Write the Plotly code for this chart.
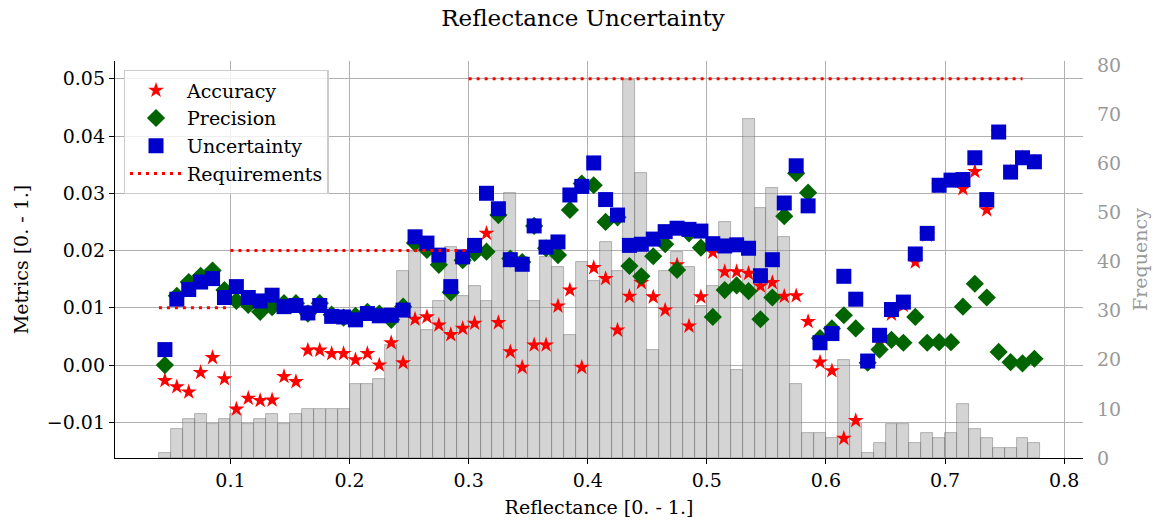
import plotly.graph_objects as go

# Bin centres of the reflectance histogram (bin width 0.01)
reflectance = [
    0.045, 0.055, 0.065, 0.075, 0.085, 0.095, 0.105, 0.115, 0.125, 0.135,
    0.145, 0.155, 0.165, 0.175, 0.185, 0.195, 0.205, 0.215, 0.225, 0.235,
    0.245, 0.255, 0.265, 0.275, 0.285, 0.295, 0.305, 0.315, 0.325, 0.335,
    0.345, 0.355, 0.365, 0.375, 0.385, 0.395, 0.405, 0.415, 0.425, 0.435,
    0.445, 0.455, 0.465, 0.475, 0.485, 0.495, 0.505, 0.515, 0.525, 0.535,
    0.545, 0.555, 0.565, 0.575, 0.585, 0.595, 0.605, 0.615, 0.625, 0.635,
    0.645, 0.655, 0.665, 0.675, 0.685, 0.695, 0.705, 0.715, 0.725, 0.735,
    0.745, 0.755, 0.765, 0.775,
]
bin_width = 0.01

frequency = [
    1, 6, 8, 9, 7, 8, 9, 7, 8, 9,
    7, 9, 10, 10, 10, 10, 15, 15, 16, 23,
    38, 42, 26, 32, 43, 33, 35, 32, 49, 54,
    41, 32, 41, 39, 25, 40, 36, 44, 38, 77,
    58, 22, 38, 42, 39, 31, 35, 48, 18, 69,
    51, 55, 45, 15, 5, 5, 4, 20, 7, 1,
    3, 7, 7, 3, 5, 4, 5, 11, 6, 4,
    2, 2, 4, 3,
]

accuracy = [
    -0.0027, -0.0038, -0.0047, -0.0013, 0.0013, -0.0024, -0.0077, -0.0058, -0.0062, -0.0061,
    -0.0020, -0.0029, 0.0026, 0.0026, 0.0020, 0.0020, 0.0009, 0.0020, 0.0000, 0.0039,
    0.0004, 0.0080, 0.0084, 0.0070, 0.0053, 0.0064, 0.0073, 0.0230, 0.0074, 0.0023,
    -0.0004, 0.0035, 0.0035, 0.0103, 0.0131, -0.0004, 0.0170, 0.0151, 0.0061, 0.0120,
    0.0144, 0.0119, 0.0096, 0.0175, 0.0068, 0.0119, 0.0197, 0.0163, 0.0163, 0.0160,
    0.0138, 0.0144, 0.0120, 0.0121, 0.0076, 0.0005, -0.0010, -0.0128, -0.0097, 0.0006,
    0.0044, 0.0089, 0.0104, 0.0180, 0.0227, 0.0312, 0.0321, 0.0308, 0.0338, 0.0271,
    0.0406, 0.0337, 0.0362, 0.0355,
]

precision = [
    0.0000, 0.0121, 0.0145, 0.0156, 0.0165, 0.0131, 0.0112, 0.0105, 0.0093, 0.0101,
    0.0108, 0.0108, 0.0090, 0.0108, 0.0088, 0.0083, 0.0086, 0.0093, 0.0090, 0.0079,
    0.0102, 0.0213, 0.0201, 0.0175, 0.0127, 0.0183, 0.0196, 0.0198, 0.0262, 0.0186,
    0.0180, 0.0243, 0.0204, 0.0192, 0.0271, 0.0317, 0.0314, 0.0250, 0.0258, 0.0173,
    0.0155, 0.0190, 0.0211, 0.0166, 0.0230, 0.0205, 0.0084, 0.0131, 0.0139, 0.0129,
    0.0080, 0.0118, 0.0260, 0.0335, 0.0301, 0.0047, 0.0064, 0.0087, 0.0064, 0.0004,
    0.0027, 0.0044, 0.0039, 0.0084, 0.0039, 0.0040, 0.0040, 0.0102, 0.0142, 0.0118,
    0.0023, 0.0005, 0.0003, 0.0011,
]

uncertainty = [
    0.0027, 0.0115, 0.0132, 0.0145, 0.0151, 0.0118, 0.0137, 0.0118, 0.0112, 0.0122,
    0.0102, 0.0104, 0.0091, 0.0104, 0.0085, 0.0084, 0.0079, 0.0090, 0.0086, 0.0087,
    0.0096, 0.0224, 0.0213, 0.0192, 0.0137, 0.0189, 0.0209, 0.0300, 0.0273, 0.0184,
    0.0176, 0.0243, 0.0206, 0.0215, 0.0297, 0.0312, 0.0353, 0.0289, 0.0262, 0.0209,
    0.0211, 0.0220, 0.0233, 0.0239, 0.0237, 0.0234, 0.0212, 0.0208, 0.0210, 0.0204,
    0.0156, 0.0184, 0.0283, 0.0348, 0.0278, 0.0039, 0.0055, 0.0155, 0.0115, 0.0007,
    0.0052, 0.0097, 0.0110, 0.0194, 0.0230, 0.0314, 0.0323, 0.0324, 0.0362, 0.0289,
    0.0407, 0.0337, 0.0362, 0.0355,
]

# Requirement levels and the reflectance range each one applies to
req_start = [0.04, 0.10, 0.30]
req_end = [0.10, 0.30, 0.765]
req_level = [0.01, 0.02, 0.05]

FONT = "DejaVu Serif"
GRID = "#b0b0b0"
GREY_TXT = "#999999"

req_x, req_y = [], []
for x0, x1, lv in zip(req_start, req_end, req_level):
    req_x += [x0, x1, None]
    req_y += [lv, lv, None]

fig = go.Figure()

# Frequency histogram on the base (right-hand) axis so it sits behind the markers
fig.add_trace(go.Bar(
    x=reflectance, y=frequency, width=bin_width,
    marker=dict(color="rgba(160,160,160,0.45)",
                line=dict(color="rgba(100,100,100,0.55)", width=0.8)),
    yaxis="y", showlegend=False, hoverinfo="skip",
))

fig.add_trace(go.Scatter(
    x=reflectance, y=accuracy, mode="markers", name="Accuracy",
    marker=dict(symbol="star", size=12, color="#ff0000", line=dict(width=0)),
    yaxis="y2",
))
fig.add_trace(go.Scatter(
    x=reflectance, y=precision, mode="markers", name="Precision",
    marker=dict(symbol="diamond", size=14, color="#006400", line=dict(width=0)),
    yaxis="y2",
))
fig.add_trace(go.Scatter(
    x=reflectance, y=uncertainty, mode="markers", name="Uncertainty",
    marker=dict(symbol="square", size=15, color="#0000cd", line=dict(width=0)),
    yaxis="y2",
))
fig.add_trace(go.Scatter(
    x=req_x, y=req_y, mode="lines", name="Requirements",
    line=dict(color="#ff0000", width=3, dash="3px,5px"),
    yaxis="y2", connectgaps=False,
))

fig.update_layout(
    width=1153, height=524,
    margin=dict(l=115, r=70, t=61, b=66, autoexpand=False),
    paper_bgcolor="white", plot_bgcolor="white",
    font=dict(family=FONT, size=19, color="black"),
    title=dict(text="Reflectance Uncertainty", x=583 / 1153, xref="container",
               xanchor="center", y=1 - 18 / 524, yref="container", yanchor="middle",
               font=dict(family=FONT, size=23, color="black")),
    xaxis=dict(
        range=[0.0031, 0.8158], automargin=False,
        tickvals=[0.1, 0.2, 0.3, 0.4, 0.5, 0.6, 0.7, 0.8], tickformat=".1f",
        showgrid=True, gridcolor=GRID, gridwidth=1.3,
        showline=True, linecolor="black", linewidth=1.3,
        ticks="outside", ticklen=5, tickwidth=1.3, tickcolor="black",
        zeroline=False,
        title=dict(text="Reflectance [0. - 1.]", standoff=10,
                   font=dict(family=FONT, size=19)),
    ),
    yaxis=dict(
        side="right", range=[0, 80.85], automargin=False,
        tickvals=[0, 10, 20, 30, 40, 50, 60, 70, 80],
        tickfont=dict(color=GREY_TXT), showgrid=False, zeroline=False,
        showline=False, ticks="", ticklabelstandoff=13,
        title=dict(text="Frequency", standoff=13,
                   font=dict(family=FONT, size=19, color=GREY_TXT)),
    ),
    yaxis2=dict(
        overlaying="y", side="left", range=[-0.01623, 0.0531], automargin=False,
        tickvals=[-0.01, 0.0, 0.01, 0.02, 0.03, 0.04, 0.05], tickformat=".2f",
        showgrid=True, gridcolor=GRID, gridwidth=1.3, zeroline=False,
        showline=True, linecolor="black", linewidth=1.3,
        ticks="outside", ticklen=5, tickwidth=1.3, tickcolor="black",
        title=dict(text="Metrics [0. - 1.]", standoff=13,
                   font=dict(family=FONT, size=19)),
    ),
    legend=dict(
        x=0.009, y=0.977, xanchor="left", yanchor="top",
        bgcolor="rgba(255,255,255,0.8)", bordercolor="#cccccc", borderwidth=1.3,
        font=dict(family=FONT, size=19), itemwidth=52,
    ),
    bargap=0,
)

fig.write_html("out.html")
